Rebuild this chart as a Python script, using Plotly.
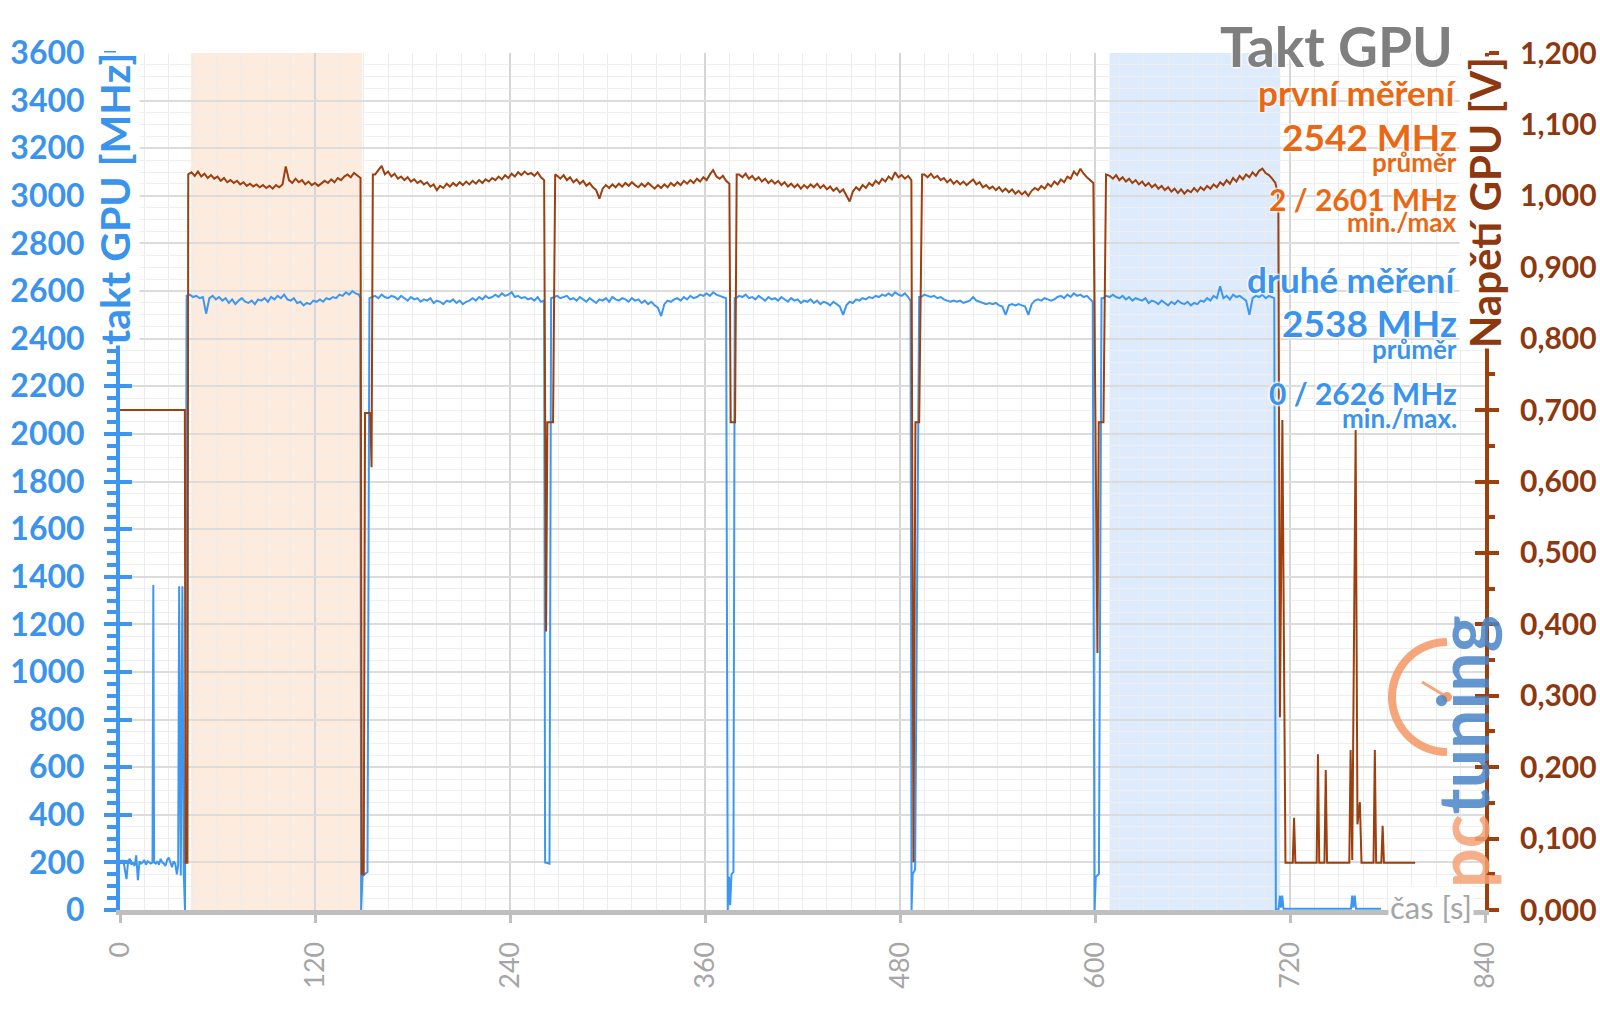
import numpy as np
import plotly.graph_objects as go

# ---------------- data ----------------
# GPU clock, "druhé měření" (MHz) -- blue, left axis
clk_idle_t = [0,1,2,3,4,5,6,7,8,9,10,11,12,13,14,15,16,17,18,19,20,20.5,21,22,23,24,25,26,27,28,29,30,31,32,33,34,35,35.8,36.4,37.4,38.4,39.2,40.0]
clk_idle_v = [205,195,210,170,130,205,215,190,200,185,230,125,205,195,200,210,190,205,200,195,200,1365,200,195,205,190,215,200,195,185,210,220,200,180,205,195,150,190,1360,145,1360,160,0]

clk_load1_start = 41
clk_load1 = [2580,2585,2575,2580,2570,2575,2505,2570,2580,2565,2575,2560,2570,2550,2565,2545,2560,2570,2555,2550,
             2560,2545,2565,2560,2570,2555,2575,2565,2580,2570,2585,2565,2560,2570,2550,2555,2540,2550,2545,2560,
             2555,2565,2555,2570,2565,2575,2570,2585,2580,2595,2585,2600,2590,2585]
clk_tr1_t = [147.9, 148.4, 149.2, 150.5, 152.3, 153.5]
clk_tr1_v = [2570, 0, 140, 150, 160, 2570]

clk_load2_start = 155
clk_load2 = [2575,2580,2570,2585,2575,2570,2580,2575,2565,2580,2570,2560,2575,2565,2570,2555,2565,2560,2570,2550,
             2560,2555,2545,2560,2555,2565,2550,2560,2545,2555,2560,2570,2560,2575,2565,2580,2570,2575,2585,2575,
             2590,2580,2585,2595,2575,2580,2570,2575,2565,2570,2560,2575,2555,2560]
clk_tr2_t = [261.6, 264.3, 265.3]
clk_tr2_v = [200, 195, 2570]

clk_load3_start = 267
clk_load3 = [2575,2580,2570,2575,2580,2565,2570,2560,2575,2565,2555,2570,2560,2550,2565,2560,2570,2555,2575,2565,
             2560,2570,2565,2555,2570,2560,2565,2550,2560,2545,2555,2540,2530,2495,2545,2560,2555,2565,2570,2560,
             2575,2565,2580,2570,2575,2585,2580,2590,2580,2595,2585,2580,2575,2570]
clk_tr3_t = [374.0, 374.8, 375.5, 376.3, 377.5, 378.3]
clk_tr3_v = [0, 140, 20, 150, 160, 2570]

clk_load4_start = 379
clk_load4 = [2570,2580,2575,2585,2570,2575,2565,2580,2570,2560,2575,2565,2570,2560,2575,2565,2555,2570,2560,2565,
             2550,2560,2555,2565,2550,2560,2545,2555,2550,2540,2555,2545,2535,2500,2540,2555,2550,2565,2560,2570,
             2565,2575,2570,2580,2575,2585,2580,2590,2580,2595,2585,2580,2590,2575]
clk_tr4_t = [486.5, 487.1, 487.8, 489.3, 491.8]
clk_tr4_v = [2560, 0, 150, 170, 2575]

clk_load5_start = 493
clk_load5 = [2575,2585,2580,2575,2580,2570,2575,2565,2560,2555,2560,2555,2560,2550,2555,2560,2575,2560,2555,2550,
             2545,2550,2545,2550,2540,2535,2500,2540,2545,2540,2545,2540,2535,2500,2545,2560,2565,2560,2570,2565,
             2560,2565,2575,2580,2570,2585,2575,2590,2580,2585,2575,2580,2565]
clk_tr5_t = [598.6, 599.7, 600.5, 602.4, 604.0]
clk_tr5_v = [2555, 0, 140, 150, 2570]

clk_load6_start = 605
clk_load6 = [2570,2580,2575,2585,2575,2570,2580,2565,2575,2560,2570,2565,2560,2570,2550,2560,2555,2545,2560,2550,
             2540,2555,2545,2560,2550,2545,2555,2540,2550,2545,2560,2555,2570,2560,2580,2570,2620,2570,2580,2565,
             2585,2575,2580,2570,2560,2500,2570,2580,2575,2585,2570,2580,2575]
clk_end_t = [710.3, 711.3, 713.0, 713.8, 714.5, 715.2, 716.0, 730, 745, 757.5, 758.3, 759.0, 759.8, 760.6, 768, 776]
clk_end_v = [2570, 0, 5, 60, 10, 60, 5, 5, 5, 5, 60, 10, 60, 5, 5, 5]

# GPU voltage (V) -- brown, right axis
volt_idle_t = [0, 10, 20, 30, 39.9, 40.4, 41.5]
volt_idle_v = [0.700, 0.700, 0.700, 0.700, 0.700, 0.066, 0.066]

volt_load1_start = 42
volt_load1 = [1.030,1.033,1.028,1.034,1.027,1.031,1.025,1.029,1.024,1.027,1.021,1.025,1.019,1.022,1.018,1.021,1.016,1.019,
              1.014,1.017,1.013,1.016,1.012,1.015,1.011,1.014,1.010,1.015,1.012,1.016,1.041,1.022,1.018,1.024,1.019,1.022,
              1.016,1.020,1.015,1.018,1.014,1.017,1.021,1.018,1.023,1.019,1.025,1.022,1.027,1.030,1.026,1.032,1.028,1.025]
volt_tr1_t = [148.8, 150.0, 150.8, 154.0, 154.8, 155.6]
volt_tr1_v = [0.050, 0.050, 0.696, 0.696, 0.620, 1.030]

volt_load2_start = 157
volt_load2 = [1.030,1.036,1.042,1.030,1.034,1.027,1.031,1.024,1.027,1.022,1.026,1.020,1.023,1.018,1.021,1.016,1.019,1.013,
              1.016,1.008,1.014,1.011,1.017,1.013,1.018,1.014,1.019,1.015,1.020,1.016,1.021,1.017,1.022,1.018,1.023,1.020,
              1.025,1.022,1.027,1.023,1.029,1.025,1.031,1.027,1.033,1.029,1.034,1.030,1.032,1.028,1.033,1.026,1.022]
volt_tr2_t = [262.2, 263.0, 266.5, 267.8]
volt_tr2_v = [0.390, 0.683, 0.683, 1.030]

volt_load3_start = 269
volt_load3 = [1.028,1.024,1.029,1.022,1.026,1.019,1.023,1.017,1.021,1.014,1.018,1.012,1.008,0.996,1.010,1.015,1.011,1.016,
              1.012,1.017,1.013,1.018,1.014,1.019,1.015,1.012,1.017,1.013,1.018,1.014,1.010,1.015,1.011,1.016,1.012,1.018,
              1.014,1.019,1.015,1.021,1.017,1.022,1.018,1.024,1.020,1.026,1.022,1.030,1.036,1.027,1.024,1.028,1.021,1.017]
volt_tr3_t = [375.8, 378.5, 379.5]
volt_tr3_v = [0.683, 0.683, 1.030]

volt_load4_start = 381
volt_load4 = [1.030,1.026,1.031,1.024,1.028,1.022,1.026,1.020,1.024,1.018,1.022,1.017,1.021,1.015,1.019,1.013,1.017,1.012,
              1.016,1.010,1.015,1.011,1.016,1.012,1.017,1.011,1.015,1.009,1.013,1.007,1.011,1.005,1.009,1.000,0.992,1.006,
              1.012,1.008,1.015,1.011,1.018,1.014,1.021,1.017,1.024,1.020,1.027,1.023,1.033,1.026,1.029,1.024,1.028,1.022]
volt_tr4_t = [488.3, 489.5, 491.8, 493.6]
volt_tr4_v = [0.067, 0.683, 0.683, 1.030]

volt_load5_start = 495
volt_load5 = [1.030,1.026,1.031,1.025,1.028,1.022,1.025,1.019,1.023,1.017,1.021,1.016,1.020,1.015,1.019,1.023,1.016,1.019,
              1.012,1.015,1.010,1.013,1.008,1.012,1.006,1.010,1.005,1.009,1.003,1.007,1.002,1.006,1.000,1.007,1.011,1.008,
              1.014,1.010,1.017,1.013,1.020,1.016,1.023,1.019,1.027,1.024,1.034,1.029,1.038,1.031,1.026,1.022,1.018]
volt_tr5_t = [601.5, 602.3, 605.2, 606.8]
volt_tr5_v = [0.360, 0.683, 0.683, 1.030]

volt_load6_start = 609
volt_load6 = [1.028,1.024,1.029,1.022,1.026,1.020,1.024,1.018,1.022,1.016,1.020,1.014,1.018,1.012,1.016,1.010,1.014,1.008,
              1.012,1.006,1.010,1.004,1.009,1.003,1.008,1.005,1.011,1.006,1.012,1.008,1.014,1.010,1.016,1.012,1.019,1.015,
              1.022,1.017,1.025,1.020,1.028,1.023,1.030,1.026,1.033,1.028,1.035,1.038,1.032,1.029,1.024,1.018]
volt_end_t = [712.8, 713.8, 715.3, 717.2, 721.7, 722.5, 723.3, 736.4, 737.2, 738.0, 741.2, 742.0, 742.8,
              756.5, 757.3, 758.3, 760.4, 761.5, 763.0, 764.0, 771.4, 772.2, 773.0, 776.2, 777.0, 777.8, 797.0]
volt_end_v = [1.000, 0.270, 0.686, 0.066, 0.066, 0.129, 0.066, 0.066, 0.218, 0.066, 0.066, 0.196, 0.066,
              0.066, 0.224, 0.070, 0.672, 0.120, 0.151, 0.066, 0.066, 0.224, 0.066, 0.066, 0.118, 0.066, 0.066]

SAMPLE_STEP = 2  # seconds between plotted samples in the load segments

# highlighted intervals (s)
orange_band = [43.6, 149.0]
blue_band = [609.0, 714.0]

x_ticks = [0, 120, 240, 360, 480, 600, 720, 840]
volt_ticks = [0.0, 0.1, 0.2, 0.3, 0.4, 0.5, 0.6, 0.7, 0.8, 0.9, 1.0, 1.1, 1.2]
volt_labels = ["0,000", "0,100", "0,200", "0,300", "0,400", "0,500", "0,600",
               "0,700", "0,800", "0,900", "1,000", "1,100", "1,200"]

# ---------------- assemble ----------------
def seg(start, vals):
    return [start + SAMPLE_STEP * i for i in range(len(vals))], list(vals)

def build(parts):
    t, v = [], []
    for pt, pv in parts:
        assert len(pt) == len(pv)
        t += list(pt); v += list(pv)
    return t, v

clk_t, clk_v = build([
    (clk_idle_t, clk_idle_v), seg(clk_load1_start, clk_load1), (clk_tr1_t, clk_tr1_v),
    seg(clk_load2_start, clk_load2), (clk_tr2_t, clk_tr2_v),
    seg(clk_load3_start, clk_load3), (clk_tr3_t, clk_tr3_v),
    seg(clk_load4_start, clk_load4), (clk_tr4_t, clk_tr4_v),
    seg(clk_load5_start, clk_load5), (clk_tr5_t, clk_tr5_v),
    seg(clk_load6_start, clk_load6), (clk_end_t, clk_end_v)])
volt_t, volt_v = build([
    (volt_idle_t, volt_idle_v), seg(volt_load1_start, volt_load1), (volt_tr1_t, volt_tr1_v),
    seg(volt_load2_start, volt_load2), (volt_tr2_t, volt_tr2_v),
    seg(volt_load3_start, volt_load3), (volt_tr3_t, volt_tr3_v),
    seg(volt_load4_start, volt_load4), (volt_tr4_t, volt_tr4_v),
    seg(volt_load5_start, volt_load5), (volt_tr5_t, volt_tr5_v),
    seg(volt_load6_start, volt_load6), (volt_end_t, volt_end_v)])

BLUE = "#3D97F2"
BLUE_TXT = "#3A93EC"
BROWN = "#9E3F0E"
BROWN_TXT = "#8E3810"
ORANGE = "#EA6814"
GRAY = "#A6A6A6"
FONT = "Lato"
HALO = "0 0 3px #fff, 0 0 3px #fff, 0 0 3px #fff, 0 0 2px #fff"

L, R, T, B = 120, 115, 53, 99
PW, PH = 1600 - L - R, 1009 - T - B

fig = go.Figure()
fig.add_trace(go.Scatter(x=clk_t, y=clk_v, mode="lines", line=dict(color=BLUE, width=2),
                         yaxis="y", showlegend=False, hoverinfo="skip"))
fig.add_trace(go.Scatter(x=volt_t, y=volt_v, mode="lines", line=dict(color=BROWN, width=2),
                         yaxis="y2", showlegend=False, hoverinfo="skip"))
fig.add_trace(go.Scatter(x=[None], y=[None], yaxis="y3", showlegend=False))
fig.add_trace(go.Scatter(x=[None], y=[None], yaxis="y4", showlegend=False))

for band, col in [(orange_band, "rgba(253,234,218,0.9)"), (blue_band, "rgba(218,233,252,0.9)")]:
    fig.add_shape(type="rect", xref="x", yref="paper", x0=band[0], x1=band[1], y0=0, y1=1,
                  fillcolor=col, line=dict(width=0), layer="below")

fig.update_layout(
    width=1600, height=1009,
    margin=dict(l=L, r=R, t=T, b=B, autoexpand=False),
    paper_bgcolor="white", plot_bgcolor="white",
    showlegend=False,
    xaxis=dict(range=[0, 840], tickvals=x_ticks, ticks="outside", ticklen=8, tickwidth=3,
               tickcolor="#BFBFBF", tickangle=-90, ticklabelstandoff=8, automargin=False,
               tickfont=dict(family=FONT, size=27, color=GRAY),
               showline=True, linecolor="#BFBFBF", linewidth=5, zeroline=False,
               showgrid=True, gridcolor="#D6D6D6", gridwidth=2,
               minor=dict(dtick=15, tick0=0, showgrid=True, gridcolor="#ECECEC", gridwidth=1)),
    yaxis=dict(range=[0, 3600], dtick=200, tick0=0, ticks="outside", ticklen=12, tickwidth=4,
               tickcolor=BLUE, showline=True, linecolor=BLUE, linewidth=4, zeroline=False,
               tickfont=dict(family=FONT, size=32, color=BLUE_TXT, weight="bold"),
               ticklabelstandoff=13, automargin=False,
               showgrid=True, gridcolor="#DCDCDC", gridwidth=2,
               minor=dict(dtick=50, tick0=0, ticks="outside", ticklen=9, tickwidth=4, tickcolor=BLUE,
                          showgrid=True, gridcolor="#EFEFEF", gridwidth=1)),
    yaxis2=dict(range=[0, 1.2], overlaying="y", side="right", anchor="x", automargin=False,
                tickvals=volt_ticks, ticktext=volt_labels, ticks="outside", ticklen=10, tickwidth=4,
                tickcolor=BROWN, showline=True, linecolor=BROWN, linewidth=4, zeroline=False,
                tickfont=dict(family=FONT, size=30, color=BROWN_TXT, weight="bold"),
                ticklabelstandoff=15, showgrid=False,
                minor=dict(dtick=0.05, tick0=0, ticks="outside", ticklen=6, tickwidth=4, tickcolor=BROWN,
                           showgrid=False)),
    yaxis3=dict(range=[0, 3600], overlaying="y", side="left", anchor="x", dtick=200, tick0=0,
                ticks="inside", ticklen=12, tickwidth=4, tickcolor=BLUE, showticklabels=False,
                showgrid=False, zeroline=False, showline=False, automargin=False),
    yaxis4=dict(range=[0, 1.2], overlaying="y", side="right", anchor="x", dtick=0.1, tick0=0,
                ticks="inside", ticklen=10, tickwidth=4, tickcolor=BROWN, showticklabels=False,
                showgrid=False, zeroline=False, showline=False, automargin=False),
)

def px_x(px):
    return (px - L) / PW

def px_y(py):
    return (1009 - B - py) / PH

ann = []
ann.append(dict(text="Takt GPU", x=px_x(1455), y=px_y(46), xanchor="right", yanchor="middle",
                font=dict(family=FONT, size=55, color="#7F7F7F", weight="bold", shadow=HALO)))
rows = [("první měření", 92, 35, ORANGE), ("2542 MHz", 136, 37, ORANGE), ("průměr", 162, 26, ORANGE),
        ("2 / 2601 MHz", 199, 30, ORANGE), ("min./max", 222, 26, ORANGE),
        ("druhé měření", 279, 35, BLUE_TXT), ("2538 MHz", 322, 37, BLUE_TXT), ("průměr", 349, 26, BLUE_TXT),
        ("0 / 2626 MHz", 393, 30, BLUE_TXT), ("min./max.", 418, 26, BLUE_TXT)]
for txt, py, sz, col in rows:
    ann.append(dict(text=txt, x=px_x(1459), y=px_y(py), xanchor="right", yanchor="middle",
                    font=dict(family=FONT, size=sz, color=col, weight="bold", shadow=HALO)))
# axis titles
ann.append(dict(text="takt GPU [MHz]", x=px_x(115), y=px_y(199), textangle=-90,
                xanchor="center", yanchor="middle", bgcolor="white", borderpad=0,
                font=dict(family=FONT, size=41, color=BLUE_TXT, weight="bold")))
ann.append(dict(text="Napětí GPU [V]", x=px_x(1485), y=px_y(203), textangle=-90,
                xanchor="center", yanchor="middle", bgcolor="white", borderpad=0,
                font=dict(family=FONT, size=42, color=BROWN_TXT, weight="bold")))
ann.append(dict(text="čas [s]", x=px_x(1431), y=px_y(907), xanchor="center", yanchor="middle",
                bgcolor="white", borderpad=1,
                font=dict(family=FONT, size=31, color=GRAY)))
# logo
ann.append(dict(text='<span style="color:#F5A274">pc</span><span style="color:#4A86C8">tuning</span>',
                x=px_x(1462), y=px_y(752), textangle=-90, xanchor="center", yanchor="middle",
                opacity=0.85, font=dict(family=FONT, size=70, weight="bold")))
for a in ann:
    a.setdefault("xref", "paper"); a.setdefault("yref", "paper"); a.setdefault("showarrow", False)
fig.update_layout(annotations=ann)

# clock arc of the logo (pixel-sized shape anchored in data space)
cx_s = (1447 - L) / PW * 840
cy_m = (1009 - B - 697) / PH * 3600
ang = np.linspace(np.pi * 0.5, np.pi * 1.5, 40)
RAD = 55
arc = "M " + " L ".join(f"{RAD*np.cos(a):.1f},{RAD*np.sin(a):.1f}" for a in ang)
fig.add_shape(type="path", path=arc, xref="x", yref="y", xsizemode="pixel", ysizemode="pixel",
              xanchor=cx_s, yanchor=cy_m, line=dict(color="rgba(245,150,100,0.85)", width=8))
fig.add_shape(type="path", path="M 0,0 L -25,15", xref="x", yref="y", xsizemode="pixel",
              ysizemode="pixel", xanchor=cx_s, yanchor=cy_m,
              line=dict(color="rgba(245,150,100,0.85)", width=3))
fig.add_shape(type="circle", xref="x", yref="y", xsizemode="pixel", ysizemode="pixel",
              xanchor=cx_s, yanchor=cy_m, x0=-5, x1=5, y0=-5, y1=5,
              fillcolor="rgba(245,150,100,0.9)", line=dict(width=0))

fig.write_html("out.html")
